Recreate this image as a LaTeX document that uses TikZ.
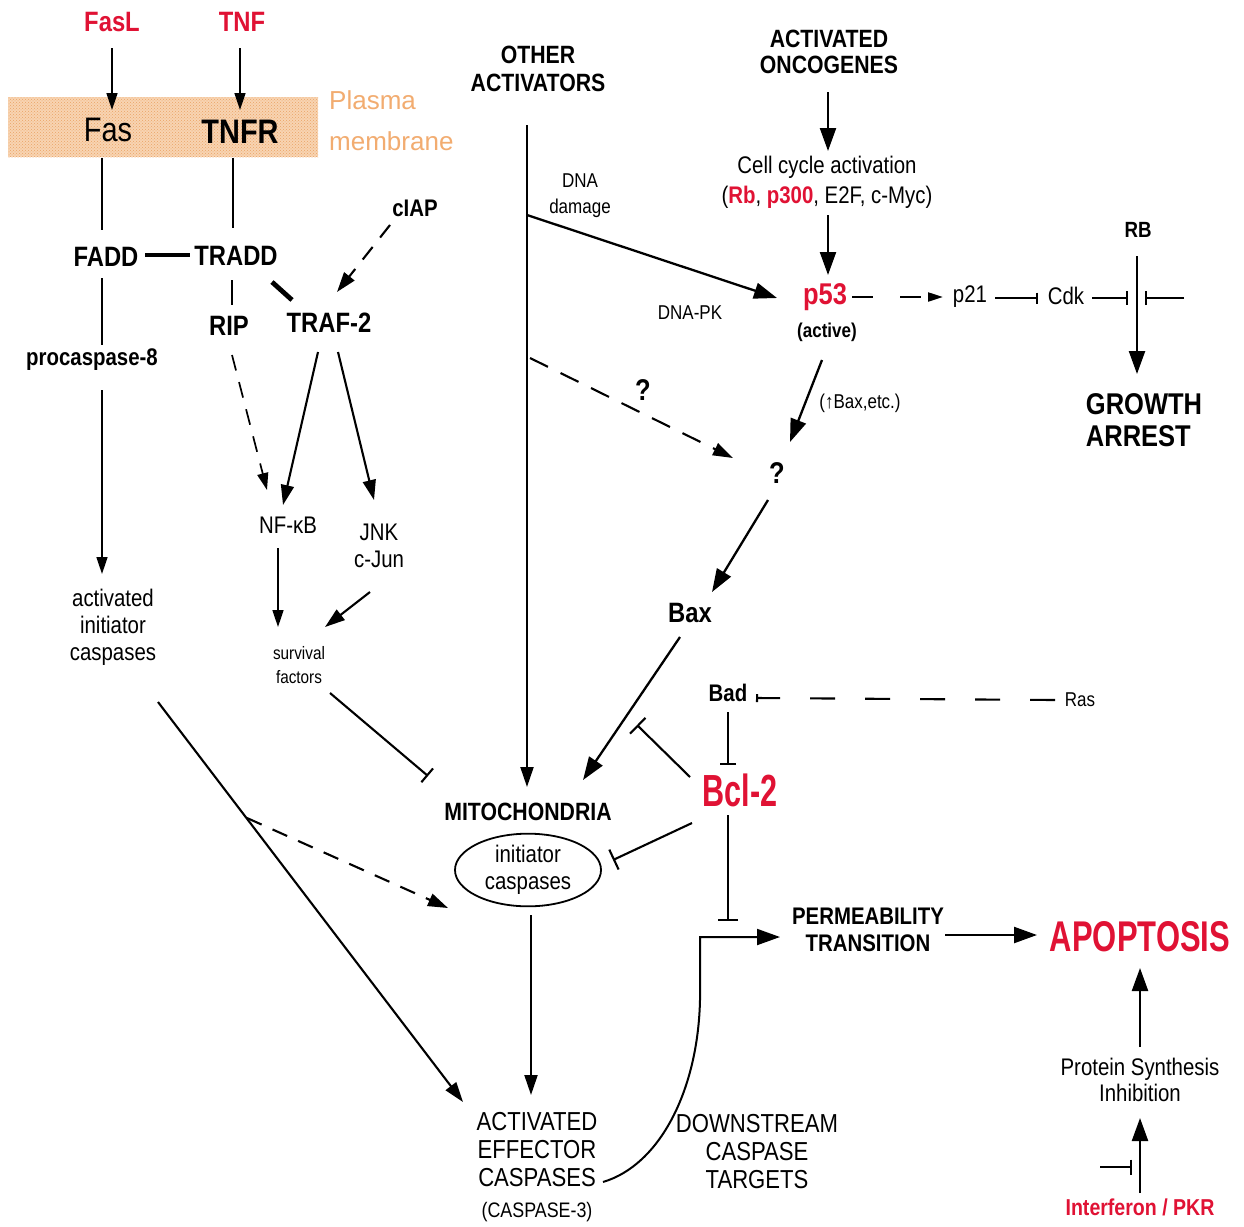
\documentclass[tikz,border=0pt]{standalone}
\usepackage{fontspec}
\setmainfont{Liberation Sans}[FakeStretch=0.85]
\newfontfamily\widefont{Liberation Sans}
\newfontfamily\condfont{Liberation Sans}[FakeStretch=0.72]
\newfontfamily\bclfont{Liberation Sans}[FakeStretch=0.68]
\usetikzlibrary{arrows.meta,calc,shapes.geometric,patterns}
\definecolor{apred}{RGB}{224,18,52}
\definecolor{memtxt}{RGB}{242,172,112}
\definecolor{memfill}{RGB}{248,212,178}
\definecolor{memdot}{RGB}{234,162,100}
\newcommand\fsz[2]{\fontsize{#1}{#2}\selectfont}
\begin{document}
\begin{tikzpicture}[x=1pt,y=-1pt,
  every node/.style={inner sep=1pt, align=center},
  arr/.style={line width=2.1pt, -{Triangle[length=20pt,width=13pt]}},
  sarr/.style={line width=1.7pt, -{Triangle[length=17pt,width=11pt]}},
  barr/.style={line width=2.3pt, -{Triangle[length=23pt,width=16pt]}},
  inh/.style={line width=2.1pt, -{Bar[width=18pt]}},
  ln/.style={line width=2.1pt},
  dsh/.style={dash pattern=on 16pt off 12pt},
]
\fill[white] (0,0) rectangle (1244,1226);
\useasboundingbox (0,0) rectangle (1244,1226);

% membrane
\fill[memfill] (8,97) rectangle (318,157);
\fill[pattern=crosshatch dots, pattern color=memdot] (8,97) rectangle (318,157);

% nodes
\node[text=apred, font=\bfseries\fsz{28}{30}] (fasl) at (112,22) {FasL};
\node[text=apred, font=\bfseries\fsz{28}{30}] (tnf) at (242,22) {TNF};
\node[font=\fsz{34}{36}] (fas) at (108,130) {Fas};
\node[font=\bfseries\fsz{34}{36}] (tnfr) at (240,132) {TNFR};
\node[anchor=west, text=memtxt, font=\widefont\fsz{26}{41}, align=left] (pm) at (328,121) {Plasma\\membrane};
\node[font=\bfseries\fsz{28}{30}] (fadd) at (106,257) {FADD};
\node[font=\bfseries\fsz{28}{30}] (tradd) at (236,256) {TRADD};
\node[font=\bfseries\fsz{24}{26}] (ciap) at (415,208) {cIAP};
\node[font=\bfseries\fsz{28}{30}] (rip) at (229,326) {RIP};
\node[font=\bfseries\fsz{28}{30}] (traf) at (329,323) {TRAF-2};
\node[font=\bfseries\fsz{24}{26}] (procasp) at (92,360) {procaspase-8};
\node[font=\fsz{24}{27}] (actinit) at (113,627) {activated\\initiator\\caspases};
\node[font=\fsz{24}{27}] (nfkb) at (288,525) {NF-κB};
\node[font=\fsz{24}{27}] (jnk) at (379,546) {JNK\\c-Jun};
\node[font=\fsz{18}{24}] (surv) at (299,665) {survival\\factors};
\node[font=\bfseries\fsz{25}{28}] (other) at (538,69) {OTHER\\ACTIVATORS};
\node[font=\bfseries\fsz{25}{26}] (onco) at (829,52) {ACTIVATED\\ONCOGENES};
\node[font=\fsz{24}{30}] (cellcyc) at (827,182) {Cell cycle activation\\(\textcolor{apred}{\bfseries Rb}, \textcolor{apred}{\bfseries p300}, E2F, c-Myc)};
\node[font=\fsz{20}{26}] (dnadmg) at (580,196) {DNA\\damage};
\node[font=\fsz{20}{22}] (dnapk) at (690,313) {DNA-PK};
\node[text=apred, font=\bfseries\fsz{30}{32}] (p53) at (825,297) {p53};
\node[font=\bfseries\fsz{20}{22}] (active) at (827,332) {(active)};
\node[font=\fsz{24}{26}] (p21) at (970,297) {p21};
\node[font=\fsz{24}{26}] (cdk) at (1066,296) {Cdk};
\node[font=\bfseries\fsz{22}{24}] (rb) at (1138,230) {RB};
\node[font=\bfseries\fsz{30}{32}, align=left] (growth) at (1144,420) {GROWTH\\ARREST};
\node[font=\fsz{20}{22}] (baxetc) at (860,403) {(↑Bax,etc.)};
\node[font=\bfseries\fsz{30}{32}] (q1) at (643,390) {?};
\node[font=\bfseries\fsz{30}{32}] (q2) at (777,473) {?};
\node[font=\bfseries\fsz{28}{30}] (bax) at (690,613) {Bax};
\node[font=\bfseries\fsz{24}{26}] (bad) at (728,693) {Bad};
\node[font=\fsz{20}{22}] (ras) at (1080,700) {Ras};
\node[text=apred, font=\bclfont\bfseries\fsz{45}{47}] (bcl2) at (740,790) {Bcl-2};
\node[font=\bfseries\fsz{25}{27}] (mito) at (528,812) {MITOCHONDRIA};
\node[draw, ellipse, line width=1.8pt, minimum width=146pt, minimum height=70pt, font=\fsz{24}{27}] (initc) at (528,870) {initiator\\caspases};
\node[font=\fsz{26}{28}] (effect) at (537,1167) {ACTIVATED\\EFFECTOR\\CASPASES\\[3pt]{\fsz{21}{23}(CASPASE-3)}};
\node[font=\fsz{26}{28}] (downstream) at (757,1152) {DOWNSTREAM\\CASPASE\\TARGETS};
\node[font=\bfseries\fsz{24}{27}] (perm) at (868,930) {PERMEABILITY\\TRANSITION};
\node[text=apred, font=\condfont\bfseries\fsz{43}{45}] (apop) at (1140,937) {APOPTOSIS};
\node[font=\fsz{24}{26}] (protsyn) at (1140,1080) {Protein Synthesis\\Inhibition};
\node[text=apred, font=\bfseries\fsz{23}{25}] (interf) at (1140,1207) {Interferon / PKR};

% connectors
\draw[sarr] ($(fasl)+(0,26)$) -- ($(fas)+(4,-20)$);
\draw[sarr] ($(tnf)+(-2,26)$) -- ($(tnfr)+(0,-22)$);
\draw[ln] ($(fas)+(-6,28)$) -- ($(fadd)+(-4,-27)$);
\draw[ln] ($(tnfr)+(-7,26)$) -- ($(tradd)+(-3,-28)$);
\draw[line width=3.8pt] ($(fadd)+(39,-2)$) -- ($(tradd)+(-46,-1)$);
\draw[ln] ($(fadd)+(-4,21)$) -- ($(procasp)+(10,-15)$);
\draw[sarr] ($(procasp)+(10,30)$) -- ($(actinit)+(-11,-53)$);
\draw[arr,dsh] ($(ciap)+(-25,17)$) -- ($(traf)+(8,-31)$);
\draw[line width=4.8pt] ($(tradd)+(36,26)$) -- ($(traf)+(-37,-23)$);
\draw[ln] ($(tradd)+(-4,24)$) -- ($(rip)+(3,-21)$);
\draw[sarr,dsh] ($(rip)+(3,29)$) -- ($(nfkb)+(-21,-35)$);
\draw[arr] ($(traf)+(-11,29)$) -- ($(nfkb)+(-5,-20)$);
\draw[arr] ($(traf)+(9,29)$) -- ($(jnk)+(-5,-46)$);
\draw[sarr] ($(nfkb)+(-10,23)$) -- ($(surv)+(-21,-38)$);
\draw[arr] ($(jnk)+(-9,46)$) -- ($(surv)+(26,-38)$);
\draw[inh] ($(surv)+(31,28)$) -- ($(mito)+(-100,-36)$);

\draw[arr] ($(other)+(-11,56)$) -- ($(mito)+(-1,-25)$);
\coordinate (dnabr) at ($(other)+(-11,146)$);
\coordinate (qbr) at ($(other)+(-8,289)$);
\draw[barr] (dnabr) -- ($(p53)+(-48,1)$);
\draw[arr,dash pattern=on 20pt off 14pt] (qbr) -- ($(q2)+(-44,-15)$);

\draw[barr] ($(onco)+(-1,40)$) -- ($(cellcyc)+(1,-31)$);
\draw[barr] ($(cellcyc)+(1,33)$) -- ($(p53)+(3,-22)$);
\draw[line width=2.1pt, dash pattern=on 21pt off 27pt, -{Triangle[length=15pt,width=9pt]}] ($(p53)+(27,0)$) -- ($(p21)+(-27,0)$);
\draw[line width=1.7pt, -{Bar[width=11pt]}] ($(p21)+(25,1)$) -- ($(cdk)+(-28,2)$);
\draw[line width=1.7pt, -{Bar[width=14pt]}] ($(cdk)+(26,2)$) -- ($(rb)+(-10,68)$);
\draw[line width=1.7pt, -{Bar[width=14pt]}] ($(rb)+(46,68)$) -- ($(rb)+(7,68)$);
\draw[barr] ($(rb)+(-1,26)$) -- ($(growth)+(-7,-46)$);

\draw[barr] ($(p53)+(-3,63)$) -- ($(q2)+(13,-31)$);
\draw[barr] ($(q2)+(-9,27)$) -- ($(bax)+(22,-21)$);
\draw[barr] ($(bax)+(-10,24)$) -- ($(mito)+(55,-32)$);

\draw[line width=2.1pt, dash pattern=on 25pt off 30pt, -{Bar[width=8pt]}] ($(ras)+(-25,0)$) -- ($(bad)+(28,5)$);
\draw[line width=1.7pt, -{Bar[width=16pt]}] ($(bad)+(0,19)$) -- ($(bcl2)+(-12,-25)$);
\draw[line width=2.1pt, -{Bar[width=22pt]}] ($(bcl2)+(-50,-13)$) -- ($(bcl2)+(-103,-65)$);
\draw[line width=2.1pt, -{Bar[width=22pt]}] ($(bcl2)+(-48,33)$) -- ($(initc)+(85,-10)$);
\draw[line width=1.7pt, -{Bar[width=20pt]}] ($(bcl2)+(-12,25)$) -- ($(perm)+(-140,-9)$);

\draw[arr,dsh] ($(actinit)+(134,191)$) -- ($(initc)+(-80,38)$);
\draw[arr] ($(actinit)+(45,75)$) -- ($(effect)+(-74,-65)$);
\draw[arr] ($(initc)+(3,45)$) -- ($(effect)+(-6,-72)$);
\draw[barr, line width=2pt] ($(effect)+(66,15)$) .. controls ($(effect)+(123,-2)$) and ($(effect)+(161,-77)$) .. ($(effect)+(163,-167)$) -- ($(effect)+(163,-230)$) -- ($(perm)+(-88,7)$);

\draw[barr] ($(perm)+(77,5)$) -- ($(apop)+(-103,-2)$);
\draw[barr] ($(protsyn)+(0,-33)$) -- ($(apop)+(0,31)$);
\draw[barr] ($(interf)+(0,-14)$) -- ($(protsyn)+(0,38)$);
\draw[line width=1.7pt, -{Bar[width=15pt]}] ($(interf)+(-40,-40)$) -- ($(interf)+(-8,-40)$);
\end{tikzpicture}
\end{document}
